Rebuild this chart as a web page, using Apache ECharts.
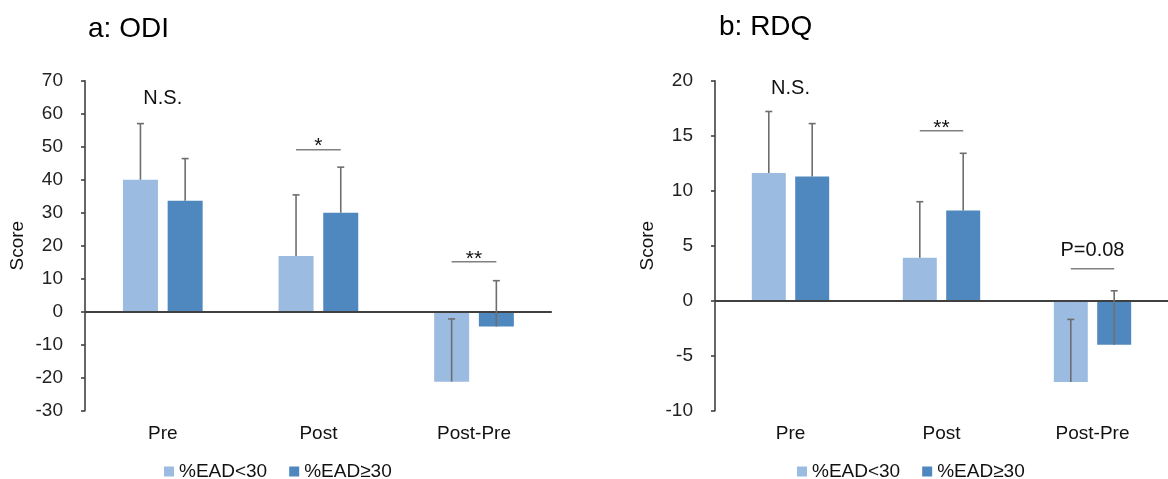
<!DOCTYPE html>
<html><head><meta charset="utf-8">
<script src="https://cdn.jsdelivr.net/npm/echarts@6/dist/echarts.min.js"></script>
<style>html,body{margin:0;padding:0;background:#fff}#c{width:1168px;height:479px}</style>
</head><body><div id="c"></div>
<script>
// ---- data ----
const categories = ['Pre', 'Post', 'Post-Pre'];
const groupNames = ['%EAD<30', '%EAD≥30'];

const odiLow = [40.0, 16.9, -21.2];
const odiHigh = [33.6, 30.0, -4.5];
const odiLowSD = [17.0, 18.5, 19.0];
const odiHighSD = [12.8, 13.8, 13.9];
const odiSigLabel = ['N.S.', '*', '**'];
const odiSigLevel = [64.7, 49.1, 15.1];
const odiSigLine = [false, true, true];
const odiTicks = [-30, 70, 10];

const rdqLow = [11.6, 3.9, -7.4];
const rdqHigh = [11.3, 8.2, -4.0];
const rdqLowSD = [5.6, 5.1, 5.7];
const rdqHighSD = [4.8, 5.2, 4.9];
const rdqSigLabel = ['N.S.', '**', 'P=0.08'];
const rdqSigLevel = [19.3, 15.45, 2.9];
const rdqSigLine = [false, true, true];
const rdqTicks = [-10, 20, 5];

// ---- style ----
const FONT = '"Liberation Sans", Arial, sans-serif';
const LIGHT = '#9BBBE1';
const DARK = '#4F88BE';
const BAR_W = 0.225, BAR_GAP = 0.277;
const AXIS_C = '#404040';

function barOffset(api, g) {
  const band = api.size([1, 0])[0];
  const bw = band * BAR_W, gap = bw * BAR_GAP;
  return (g === 0 ? -1 : 1) * (bw + gap) / 2;
}

function errData(lowM, lowSD, highM, highSD) {
  const d = [];
  categories.forEach((c, i) => {
    d.push([i, lowM[i], lowSD[i], 0]);
    d.push([i, highM[i], highSD[i], 1]);
  });
  return d;
}

function errRender(params, api) {
  const cat = api.value(0), mean = api.value(1), sd = api.value(2), g = api.value(3);
  const p0 = api.coord([cat, mean]);
  const p1 = api.coord([cat, mean + sd]);
  const x = p0[0] + barOffset(api, g);
  const st = { stroke: '#6E6E6E', lineWidth: 1.6 };
  return { type: 'group', children: [
    { type: 'line', shape: { x1: x, y1: p0[1], x2: x, y2: p1[1] }, style: st },
    { type: 'line', shape: { x1: x - 3.5, y1: p1[1], x2: x + 3.5, y2: p1[1] }, style: st }
  ]};
}

function sigRender(labels, params, api) {
  const cat = api.value(0), lvl = api.value(1), hasLine = api.value(2);
  const label = labels[params.dataIndex];
  const p = api.coord([cat, lvl]);
  const children = [];
  if (hasLine) {
    const xl = p[0] + barOffset(api, 0), xr = p[0] + barOffset(api, 1);
    children.push({ type: 'line', shape: { x1: xl, y1: p[1], x2: xr, y2: p[1] },
      style: { stroke: '#808080', lineWidth: 1.5 } });
    const isStar = label.indexOf('*') >= 0;
    children.push({ type: 'text', x: p[0], y: isStar ? p[1] - 3 : p[1] - 8,
      style: { text: label, font: (isStar ? '21px ' : '20px ') + FONT, fill: '#111', align: 'center',
        verticalAlign: isStar ? 'middle' : 'bottom' } });
  } else {
    children.push({ type: 'text', x: p[0], y: p[1],
      style: { text: label, font: '20px ' + FONT, fill: '#111', align: 'center', verticalAlign: 'middle' } });
  }
  return { type: 'group', children };
}

function makeSig(labels, levels, lines, axisIdx) {
  return {
    type: 'custom', xAxisIndex: axisIdx, yAxisIndex: axisIdx, z: 6, silent: true,
    data: labels.map((l, i) => [i, levels[i], lines[i] ? 1 : 0]),
    encode: { x: 0, y: 1 },
    renderItem: function (params, api) { return sigRender(labels, params, api); }
  };
}

const gridTop = 80.7, gridH = 330;
const grids = [
  { left: 85, top: gridTop, width: 466.8, height: gridH },
  { left: 715, top: gridTop, width: 466.5, height: gridH }
];

function xAx(i) {
  return { type: 'category', gridIndex: i, data: categories,
    axisLine: { show: false }, axisTick: { show: false },
    axisLabel: { margin: 14, fontSize: 19, color: '#111', fontFamily: FONT } };
}
function yAx(i, t) {
  return { type: 'value', gridIndex: i, min: t[0], max: t[1], interval: t[2],
    name: 'Score', nameLocation: 'middle', nameGap: 58, nameRotate: 90,
    nameTextStyle: { fontSize: 19, color: '#111', fontFamily: FONT },
    axisLine: { show: true, onZero: false, lineStyle: { color: AXIS_C, width: 1.6 } },
    axisTick: { show: true, length: 4, lineStyle: { color: AXIS_C, width: 1.6 } },
    splitLine: { show: false },
    axisLabel: { margin: 22, fontSize: 19, color: '#222', fontFamily: FONT } };
}
function bars(i, low, high) {
  const zero = { silent: true, symbol: 'none', label: { show: false },
    lineStyle: { color: AXIS_C, width: 2, type: 'solid' }, data: [{ yAxis: 0 }] };
  return [
    { name: groupNames[0], type: 'bar', xAxisIndex: i, yAxisIndex: i, data: low,
      barWidth: (BAR_W * 100) + '%', barGap: (BAR_GAP * 100) + '%',
      itemStyle: { color: LIGHT }, markLine: zero, z: 2 },
    { name: groupNames[1], type: 'bar', xAxisIndex: i, yAxisIndex: i, data: high,
      barWidth: (BAR_W * 100) + '%', barGap: (BAR_GAP * 100) + '%',
      itemStyle: { color: DARK }, z: 2 }
  ];
}
function errSeries(i, lm, ls, hm, hs) {
  return { type: 'custom', xAxisIndex: i, yAxisIndex: i, z: 5, silent: true,
    data: errData(lm, ls, hm, hs), encode: { x: 0, y: 1 }, renderItem: errRender };
}
function legend(left) {
  return { left: left, top: 457, data: groupNames, icon: 'rect', itemWidth: 10, itemHeight: 10,
    itemGap: 22, selectedMode: false, textStyle: { fontSize: 19, color: '#111', fontFamily: FONT } };
}

const option = {
  animation: false,
  backgroundColor: '#fff',
  title: [
    { text: 'a: ODI', left: 88, top: 15, padding: 0,
      textStyle: { fontSize: 28, fontWeight: 'normal', color: '#000', fontFamily: FONT } },
    { text: 'b: RDQ', left: 719, top: 13, padding: 0,
      textStyle: { fontSize: 28, fontWeight: 'normal', color: '#000', fontFamily: FONT } }
  ],
  legend: [legend(159), legend(792)],
  grid: grids,
  xAxis: [xAx(0), xAx(1)],
  yAxis: [yAx(0, odiTicks), yAx(1, rdqTicks)],
  series: [].concat(
    bars(0, odiLow, odiHigh),
    bars(1, rdqLow, rdqHigh),
    [errSeries(0, odiLow, odiLowSD, odiHigh, odiHighSD),
     errSeries(1, rdqLow, rdqLowSD, rdqHigh, rdqHighSD),
     makeSig(odiSigLabel, odiSigLevel, odiSigLine, 0),
     makeSig(rdqSigLabel, rdqSigLevel, rdqSigLine, 1)]
  )
};

const chart = echarts.init(document.getElementById('c'), null, { renderer: 'canvas' });
chart.setOption(option);
</script>
</body></html>
